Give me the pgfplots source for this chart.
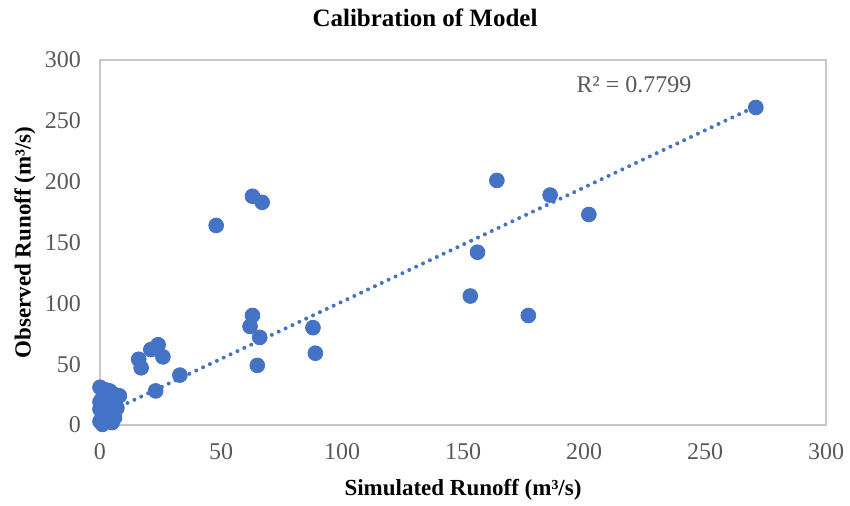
\documentclass[border=0pt]{standalone}
\usepackage{fontspec}
\setmainfont{Liberation Serif}
\usepackage{pgfplots}
\pgfplotsset{compat=1.18}
\definecolor{ptblue}{HTML}{4472C4}
\definecolor{tickgray}{HTML}{595959}
\definecolor{framegray}{HTML}{C8C8C8}

\pgfplotstableread{
sim obs
271 261
164 201
186 189
202 173
156 142
153 106
177 90
63 188
67 183
48 164
63 90
62 81
66 72
65 49
88 80
89 59
24 66
21 62
16 54
17 47
26 56
33 41
23 28
0 31
2 29
4 28
6 25
8 24
1 22
0 19
3 20
6 18
7 14
2 15
0 13
4 11
1 8
3 6
6 6
0 3
1 0.5
5 2
}\calib

\begin{document}
\begin{tikzpicture}
\begin{axis}[
    name=ax,
    scale only axis,
    width=363pt, height=182.5pt,
    xmin=0, xmax=300, ymin=0, ymax=300,
    xtick={0,50,...,300}, ytick={0,50,...,300},
    major tick length=0pt,
    axis line style={framegray, line width=0.8pt},
    tick label style={font=\fontsize{12}{14}\selectfont, text=tickgray},
    xticklabel style={yshift=-5.5pt},
    yticklabel style={xshift=-6pt},
    /pgf/number format/assume math mode=true,
    xlabel={\textbf{Simulated Runoff (m³/s)}},
    ylabel={\textbf{Observed Runoff (m³/s)}},
    label style={font=\fontsize{11.5}{14}\selectfont},
    xlabel style={at={(axis description cs:0.5,-0.178)}, anchor=center},
    ylabel style={at={(axis description cs:-0.1033,0.5)}, anchor=center},
    clip=false,
]
\addplot[only marks, mark=*, mark size=3.7pt, ptblue, mark options={fill=ptblue, draw=ptblue}] table[x=sim, y=obs] {\calib};
\addplot[ptblue, line width=2pt, dash pattern=on 0pt off 3.8pt, line cap=round] coordinates {(0,7.4) (271,261.9)};
\node[text=tickgray, font=\fontsize{12}{14}\selectfont] at (axis cs:220.7,279.5) {R² = 0.7799};
\node[font=\fontsize{12.5}{15}\selectfont\bfseries, anchor=center] at (axis description cs:0.4477,1.115) {Calibration of Model};
\end{axis}
\pgfresetboundingbox
\path[use as bounding box] (ax.south west) ++(-50pt,-40.5pt) rectangle ++(425pt,253pt);
\end{tikzpicture}
\end{document}
